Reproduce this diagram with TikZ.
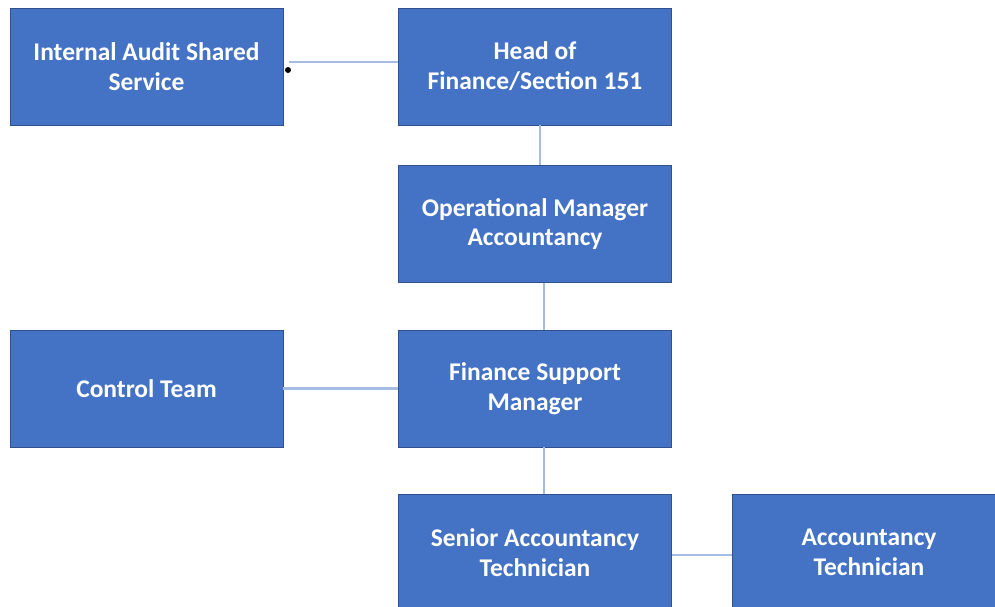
\documentclass[tikz,border=0pt]{standalone}
\usepackage{fontspec}
\setmainfont{Carlito}
\definecolor{boxblue}{RGB}{68,114,196}
\definecolor{boxedge}{RGB}{47,82,143}
\definecolor{linkblue}{RGB}{165,188,228}
\begin{document}
\begin{tikzpicture}[x=0.02cm,y=-0.02cm]
    \useasboundingbox (0,0) rectangle (995,607);
    \clip (0,0) rectangle (995,607);
    \tikzstyle{post}=[draw=boxedge,line width=0.5pt,fill=boxblue,text=white,
      minimum width=5.46cm,minimum height=2.34cm,align=center,
      font=\fontsize{14.5}{17}\selectfont\bfseries]
    \tikzstyle{link}=[draw=linkblue,line width=1.2pt]

    \begin{scope}[every node/.style=post]
      \node (audit)   at (146.5,66.5) {Internal Audit Shared\\Service};
      \node (head)    at (535  ,66.5) {Head of\\Finance/Section 151};
      \node (opman)   at (535  ,224 ) {Operational Manager\\Accountancy};
      \node (control) at (146.5,388.5) {Control Team};
      \node (fsm)     at (535  ,388.5) {Finance Support\\Manager};
      \node (senior)  at (535  ,552.5) {Senior Accountancy\\Technician};
      \node (tech)    at (869  ,552.5) {Accountancy\\Technician};
    \end{scope}

    \node[circle,fill=black,inner sep=0pt,minimum size=0.12cm] (dot) at (288,70) {};

    \draw[link] ([yshift=0.09cm]audit.east) ++(0.12cm,0) -- ([yshift=0.09cm]head.west);
    \draw[link] ([xshift=0.1cm]head.south) -- ([xshift=0.1cm]opman.north);
    \draw[link] ([xshift=0.18cm]opman.south) -- ([xshift=0.18cm]fsm.north);
    \draw[link] ([xshift=0.18cm]fsm.south) -- ([xshift=0.18cm]senior.north);
    \draw[link] (control.east) -- (fsm.west);
    \draw[link] ([yshift=-0.05cm]senior.east) -- ([yshift=-0.05cm]tech.west);
\end{tikzpicture}
\end{document}
